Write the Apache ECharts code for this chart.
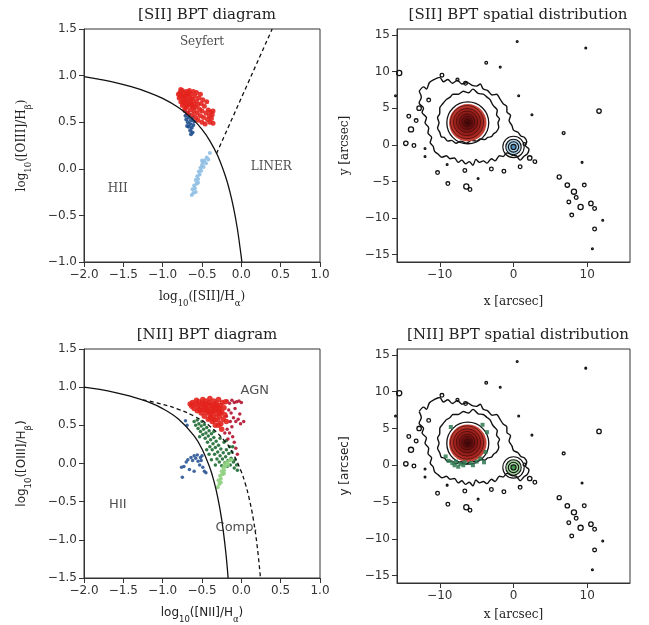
<!DOCTYPE html>
<html>
<head>
<meta charset="utf-8">
<script src="https://cdn.jsdelivr.net/npm/echarts@6/dist/echarts.min.js"></script>
<style>
html,body{margin:0;padding:0;background:#fff;}
#main{width:649px;height:625px;}
</style>
</head>
<body>
<div id="main"></div>
<script>
// demarcation lines
var siiKewley = [[-2.0,0.99],[-1.8,0.96],[-1.6,0.925],[-1.4,0.881],[-1.2,0.826],[-1.0,0.755],[-0.8,0.657],[-0.6,0.517],[-0.5,0.422],[-0.4,0.30],[-0.3,0.139],[-0.2,-0.085],[-0.15,-0.232],[-0.1,-0.414],[-0.05,-0.646],[0.0,-0.95],[0.007,-1.0]];
var siiSeyLiner = [[-0.315,0.165],[0.392,1.5]];
var niiKauff = [[-2.0,1.0],[-1.8,0.97],[-1.6,0.93],[-1.4,0.879],[-1.2,0.812],[-1.0,0.719],[-0.8,0.582],[-0.6,0.362],[-0.5,0.191],[-0.4,-0.056],[-0.35,-0.225],[-0.3,-0.443],[-0.25,-0.733],[-0.2,-1.14],[-0.168,-1.5]];
var niiKewley = [[-1.25,0.835],[-1.0,0.775],[-0.8,0.71],[-0.6,0.62],[-0.4,0.489],[-0.2,0.28],[-0.1,0.12],[0.0,-0.108],[0.05,-0.262],[0.1,-0.459],[0.15,-0.716],[0.2,-1.069],[0.243,-1.497]];

// [SII] diagram points
var siiRed = [[-0.80,0.80],[-0.79,0.76],[-0.78,0.82],[-0.77,0.72],[-0.76,0.79],[-0.75,0.84],[-0.75,0.68],[-0.74,0.75],[-0.73,0.81],[-0.72,0.70],[-0.72,0.64],[-0.71,0.78],[-0.70,0.83],[-0.70,0.66],[-0.69,0.73],[-0.68,0.80],[-0.68,0.60],[-0.67,0.69],[-0.66,0.77],[-0.66,0.84],[-0.65,0.63],[-0.65,0.72],[-0.64,0.80],[-0.63,0.67],[-0.62,0.75],[-0.62,0.58],[-0.61,0.83],[-0.60,0.70],[-0.60,0.62],[-0.59,0.78],[-0.58,0.55],[-0.58,0.66],[-0.57,0.73],[-0.57,0.82],[-0.56,0.60],[-0.55,0.69],[-0.55,0.52],[-0.54,0.76],[-0.53,0.64],[-0.52,0.57],[-0.52,0.80],[-0.51,0.70],[-0.50,0.50],[-0.50,0.62],[-0.49,0.74],[-0.48,0.55],[-0.47,0.67],[-0.46,0.48],[-0.45,0.60],[-0.44,0.72],[-0.43,0.53],[-0.42,0.63],[-0.41,0.57],[-0.40,0.50],[-0.39,0.61],[-0.38,0.54],[-0.37,0.58],[-0.36,0.62],[-0.36,0.49],[-0.78,0.78],[-0.74,0.71],[-0.71,0.74],[-0.69,0.68],[-0.67,0.82],[-0.64,0.75],[-0.63,0.70],[-0.61,0.66],[-0.77,0.85],[-0.73,0.77],[-0.70,0.79]];
var siiDarkBlue = [[-0.72,0.62],[-0.71,0.57],[-0.70,0.53],[-0.69,0.60],[-0.68,0.50],[-0.67,0.55],[-0.67,0.45],[-0.66,0.58],[-0.65,0.48],[-0.65,0.41],[-0.64,0.52],[-0.63,0.44],[-0.62,0.39],[-0.62,0.55],[-0.61,0.47],[-0.60,0.51],[-0.64,0.37],[-0.69,0.46]];
var siiLightBlue = [[-0.63,-0.28],[-0.62,-0.22],[-0.61,-0.26],[-0.60,-0.18],[-0.59,-0.21],[-0.58,-0.12],[-0.57,-0.16],[-0.56,-0.08],[-0.55,-0.11],[-0.54,-0.03],[-0.53,-0.06],[-0.52,0.01],[-0.51,-0.02],[-0.50,0.04],[-0.49,0.07],[-0.48,0.02],[-0.47,0.09],[-0.45,0.06],[-0.44,0.12],[-0.42,0.10],[-0.40,0.17],[-0.55,-0.15],[-0.58,-0.25],[-0.50,0.09]];

// [NII] diagram points
var niiRed = [[-0.65,0.78],[-0.63,0.75],[-0.62,0.80],[-0.60,0.72],[-0.58,0.78],[-0.57,0.83],[-0.56,0.69],[-0.55,0.76],[-0.54,0.81],[-0.52,0.73],[-0.51,0.66],[-0.50,0.79],[-0.49,0.84],[-0.48,0.70],[-0.47,0.62],[-0.46,0.76],[-0.45,0.82],[-0.44,0.67],[-0.43,0.73],[-0.42,0.58],[-0.41,0.80],[-0.40,0.85],[-0.40,0.64],[-0.39,0.71],[-0.38,0.77],[-0.37,0.55],[-0.36,0.68],[-0.35,0.82],[-0.35,0.61],[-0.34,0.74],[-0.33,0.50],[-0.32,0.79],[-0.31,0.65],[-0.30,0.57],[-0.30,0.71],[-0.29,0.84],[-0.28,0.62],[-0.27,0.76],[-0.26,0.52],[-0.25,0.68],[-0.24,0.80],[-0.23,0.58],[-0.22,0.73],[-0.21,0.64],[-0.20,0.81],[-0.19,0.55],[-0.53,0.70],[-0.46,0.72],[-0.44,0.78],[-0.38,0.66],[-0.33,0.70],[-0.31,0.76],[-0.28,0.72],[-0.42,0.69],[-0.36,0.75],[-0.48,0.77],[-0.39,0.60],[-0.27,0.66],[-0.34,0.57],[-0.29,0.50],[-0.25,0.45]];
var niiDarkRed = [[-0.18,0.82],[-0.15,0.79],[-0.12,0.83],[-0.09,0.80],[-0.06,0.81],[-0.03,0.82],[0.00,0.80],[-0.16,0.70],[-0.13,0.66],[-0.10,0.60],[-0.07,0.55],[-0.04,0.58],[-0.01,0.52],[-0.14,0.55],[-0.12,0.48],[-0.18,0.45],[-0.15,0.40],[-0.11,0.35],[-0.09,0.28],[-0.07,0.20],[-0.05,0.12],[-0.19,0.62],[-0.21,0.40],[-0.17,0.32],[0.03,0.55],[-0.02,0.65],[-0.08,0.72]];
var niiDarkGreen = [[-0.60,0.55],[-0.58,0.50],[-0.56,0.57],[-0.55,0.46],[-0.54,0.52],[-0.52,0.42],[-0.51,0.49],[-0.50,0.55],[-0.49,0.38],[-0.48,0.45],[-0.47,0.51],[-0.46,0.33],[-0.45,0.40],[-0.44,0.47],[-0.43,0.28],[-0.42,0.36],[-0.41,0.43],[-0.40,0.22],[-0.39,0.31],[-0.38,0.39],[-0.37,0.18],[-0.36,0.26],[-0.35,0.34],[-0.34,0.12],[-0.33,0.21],[-0.32,0.29],[-0.31,0.06],[-0.30,0.15],[-0.29,0.24],[-0.28,0.02],[-0.27,0.10],[-0.26,0.19],[-0.25,-0.03],[-0.24,0.06],[-0.23,0.14],[-0.22,0.28],[-0.21,0.01],[-0.20,0.09],[-0.19,0.18],[-0.18,-0.04],[-0.17,0.04],[-0.16,0.13],[-0.15,0.22],[-0.14,-0.02],[-0.13,0.07],[-0.12,0.15],[-0.10,0.02],[-0.09,-0.06],[-0.08,0.05],[-0.06,-0.02],[-0.05,-0.09],[-0.41,0.12],[-0.38,0.05],[-0.33,-0.02],[-0.44,0.18],[-0.53,0.35],[-0.35,0.42],[-0.27,0.33],[-0.19,0.30],[-0.11,0.22]];
var niiLightGreen = [[-0.30,-0.31],[-0.29,-0.22],[-0.28,-0.27],[-0.27,-0.16],[-0.26,-0.20],[-0.25,-0.10],[-0.24,-0.14],[-0.23,-0.05],[-0.22,-0.09],[-0.21,0.00],[-0.20,-0.04],[-0.18,0.02],[-0.17,-0.02],[-0.15,0.04],[-0.13,0.05],[-0.26,-0.25],[-0.22,-0.13]];
var niiDarkBlue = [[-0.75,-0.18],[-0.76,-0.05],[-0.73,-0.04],[-0.70,0.02],[-0.68,0.05],[-0.66,-0.08],[-0.64,0.08],[-0.62,0.04],[-0.60,0.10],[-0.58,0.07],[-0.56,0.11],[-0.55,0.03],[-0.53,-0.02],[-0.52,0.08],[-0.50,0.10],[-0.49,-0.05],[-0.47,-0.10],[-0.45,-0.12],[-0.60,-0.10],[-0.71,0.56],[-0.69,0.50],[-0.51,0.04]];

// spatial maps: contours in arcsec
var outerContour = [[-12.8,7.3],[-12.2,7.9],[-11.8,7.6],[-11.4,8.5],[-10.8,8.9],[-10.0,9.2],[-9.5,8.6],[-8.9,8.9],[-8.3,8.4],[-7.6,8.8],[-7.0,8.3],[-6.3,8.5],[-5.6,8.1],[-5.0,8.0],[-4.5,8.3],[-4.1,7.6],[-3.5,7.4],[-2.9,6.8],[-2.3,6.9],[-1.8,6.2],[-1.4,5.6],[-0.9,5.2],[-0.9,4.5],[-0.4,4.0],[-0.6,3.3],[-0.2,2.6],[0.0,2.0],[0.6,1.7],[1.0,1.2],[1.5,1.0],[1.8,0.4],[1.6,-0.1],[2.1,-0.6],[1.9,-1.2],[1.4,-1.6],[0.9,-2.1],[0.4,-1.5],[-0.2,-1.4],[-0.9,-1.1],[-1.4,-1.6],[-1.9,-1.5],[-2.5,-2.2],[-3.0,-1.9],[-3.6,-2.5],[-4.1,-2.2],[-4.6,-2.4],[-5.1,-2.0],[-5.5,-2.8],[-6.0,-2.3],[-6.5,-2.6],[-7.0,-2.1],[-7.5,-2.4],[-8.0,-1.8],[-8.6,-1.9],[-9.1,-1.5],[-9.7,-1.7],[-10.2,-1.3],[-10.7,-0.9],[-10.9,-0.2],[-11.3,0.3],[-11.1,1.0],[-11.6,1.6],[-11.5,2.3],[-12.0,3.0],[-11.8,3.7],[-12.4,4.4],[-12.2,5.0],[-12.8,5.7],[-12.5,6.5],[-12.8,7.3]];
var midContour = [[-9.1,6.2],[-8.6,6.5],[-8.2,6.9],[-7.5,6.9],[-6.8,7.3],[-6.1,7.1],[-5.5,7.6],[-4.8,7.0],[-4.1,6.9],[-3.6,6.5],[-3.2,6.2],[-2.9,5.6],[-2.7,5.3],[-2.2,4.7],[-2.3,4.1],[-1.9,3.5],[-2.1,3.0],[-2.0,2.4],[-2.3,1.8],[-2.7,1.5],[-3.0,1.1],[-3.5,1.0],[-3.9,0.7],[-4.5,0.8],[-5.0,0.5],[-5.7,0.6],[-6.4,0.2],[-7.1,0.5],[-7.8,0.2],[-8.4,0.6],[-8.9,0.5],[-9.4,1.0],[-9.8,1.1],[-10.0,1.7],[-10.3,2.3],[-10.1,3.0],[-10.3,3.7],[-10.0,4.3],[-10.0,5.0],[-9.6,5.6],[-9.1,6.2]];
// [x, y, radius]
var nucleusRed = [[-6.2,3.0,2.55]];
var nucleusEdge = [[-6.2,3.0,2.85]];
var nucleusRings = [[-6.3,3.1,2.25],[-6.3,3.1,1.85],[-6.3,3.15,1.45],[-6.3,3.15,1.05],[-6.3,3.2,0.7],[-6.3,3.2,0.35]];
var companionFill = [[0.0,-0.3,1.0]];
var companionCore = [[0.0,-0.3,0.35]];
var companionRings = [[0.0,-0.3,1.45],[0.0,-0.3,1.05],[0.0,-0.3,0.7],[0.0,-0.3,0.35]];
var islands = [[-15.5,9.8,0.35],[0.5,14.1,0.12],[9.8,13.2,0.12],[-3.7,11.2,0.18],[-1.8,10.6,0.12],[11.6,4.6,0.3],[6.8,1.6,0.2],[9.3,-2.4,0.12],[6.2,-4.4,0.28],[-8.9,-5.3,0.25],[-6.4,-5.7,0.35],[-5.9,-6.1,0.25],[-10.3,-3.8,0.25],[-4.8,-4.6,0.12],[0.9,-3.0,0.25],[2.9,-2.3,0.25],[0.7,6.7,0.12],[2.5,4.1,0.12],[-14.6,0.2,0.3],[-13.5,-0.1,0.25],[-12.0,-0.5,0.12],[-13.9,2.1,0.35],[-14.2,3.9,0.25],[-13.2,3.3,0.25],[-12.8,5.0,0.3],[-11.5,6.1,0.25],[-9.7,9.5,0.25],[-7.6,8.9,0.2],[-6.5,8.4,0.25],[-12.0,-1.6,0.12],[-9.0,-2.7,0.12],[-6.6,-3.5,0.25],[-3.0,-3.3,0.25],[-1.3,-3.6,0.25],[1.5,0.1,0.2],[2.2,-1.8,0.3],[7.3,-5.5,0.3],[8.2,-6.4,0.35],[9.6,-5.5,0.25],[7.5,-7.8,0.25],[9.1,-8.5,0.35],[10.5,-8.0,0.3],[7.9,-9.6,0.25],[11.0,-8.7,0.25],[8.5,-7.2,0.25],[12.1,-10.3,0.12],[11.0,-11.5,0.25],[10.7,-14.2,0.12],[-16.0,6.7,0.12]];
var greenSpaxels = [[-8.8,0.6],[-8.3,0.3],[-7.8,0.5],[-7.2,0.2],[-6.6,0.4],[-5.8,0.3],[-5.0,0.5],[-4.5,0.9],[-9.2,1.2],[-3.8,1.8],[-3.6,4.5],[-4.2,5.5],[-8.5,5.2],[-6.8,0.0],[-5.5,0.0],[-7.5,-0.2],[-4.0,0.4],[-8.0,0.0]];

var mapTicksX = [-10,0,10];
var mapTicksY = [-15,-10,-5,0,5,10,15];

var serif = 'DejaVu Serif';
var sans = 'DejaVu Sans';

function fmt1(v){ return v.toFixed(1).replace('-', '\u2212'); }
function fmt0(v){ return String(v).replace('-', '\u2212'); }

function richName(font){
	return {
		t: {fontFamily: font, fontSize: 12, color: '#222', lineHeight: 17, verticalAlign: 'middle'},
		s: {fontFamily: font, fontSize: 8.5, color: '#222', lineHeight: 17, verticalAlign: 'bottom', padding: [0,0,-3,0]}
	};
}

function valAxis(idx, min, max, interval, name, font, gap, custom, fmt){
	var ax = {
		type: 'value', gridIndex: idx, min: min, max: max,
		name: name, nameLocation: 'middle', nameGap: gap,
		nameTextStyle: {fontFamily: font, fontSize: 12, color: '#222', rich: richName(font)},
		axisLine: {show: true, onZero: false, lineStyle: {color: '#333', width: 1}},
		axisTick: {show: true, length: 5, lineStyle: {color: '#333'}},
		axisLabel: {fontFamily: sans, fontSize: 12, color: '#333', margin: 7, formatter: fmt},
		splitLine: {show: false}
	};
	if(interval) ax.interval = interval;
	if(custom){
		ax.axisTick.customValues = custom;
		ax.axisLabel.customValues = custom;
	}
	return ax;
}

function circleRender(fill, stroke, width){
	return function(params, api){
		var c = api.coord([api.value(0), api.value(1)]);
		var s = api.size([api.value(2), api.value(2)]);
		var r = (s[0] + s[1]) / 2;
		return {
			type: 'circle',
			shape: {cx: c[0], cy: c[1], r: r},
			style: {fill: fill, stroke: stroke, lineWidth: width}
		};
	};
}

function scat(ax, data, color, size){
	return {type: 'scatter', xAxisIndex: ax, yAxisIndex: ax, data: data, symbolSize: size,
		itemStyle: {color: color, opacity: 0.9}, silent: true, z: 3};
}
function curve(ax, data, dashed){
	return {type: 'line', xAxisIndex: ax, yAxisIndex: ax, data: data, smooth: 0.4, showSymbol: false, silent: true,
		lineStyle: {color: '#111', width: 1.3, type: dashed ? [4,3] : 'solid'}, z: 4};
}
function labels(ax, items, font, size){
	return {type: 'scatter', xAxisIndex: ax, yAxisIndex: ax, symbolSize: 0, silent: true, data: items,
		label: {show: true, position: 'inside', formatter: '{b}', fontFamily: font, fontSize: size, color: '#222'}, z: 5};
}

function mapSeries(ax, coreColor, coreDark, withGreen){
	var list = [];
	list.push({type: 'line', xAxisIndex: ax, yAxisIndex: ax, data: outerContour, smooth: 0.3, showSymbol: false, silent: true,
		lineStyle: {color: '#111', width: 1.4}, z: 3});
	list.push({type: 'line', xAxisIndex: ax, yAxisIndex: ax, data: midContour, smooth: 0.3, showSymbol: false, silent: true,
		lineStyle: {color: '#111', width: 1.4}, z: 3});
	list.push({type: 'custom', xAxisIndex: ax, yAxisIndex: ax, data: islands, silent: true, z: 3,
		renderItem: circleRender('none', '#111', 1.3)});
	list.push({type: 'custom', xAxisIndex: ax, yAxisIndex: ax, data: nucleusEdge, silent: true, z: 3,
		renderItem: circleRender('none', '#111', 1.3)});
	list.push({type: 'custom', xAxisIndex: ax, yAxisIndex: ax, data: nucleusRed, silent: true, z: 4,
		renderItem: circleRender({type: 'radial', x: 0.5, y: 0.5, r: 0.5, colorStops: [
			{offset: 0, color: '#3a0606'}, {offset: 0.35, color: '#741212'}, {offset: 0.75, color: '#a8261f'}, {offset: 1, color: '#cc4a3e'}]}, 'none', 0)});
	if(withGreen){
		list.push({type: 'scatter', xAxisIndex: ax, yAxisIndex: ax, data: greenSpaxels, symbol: 'rect', symbolSize: 4,
			itemStyle: {color: '#2f7a52', opacity: 0.85}, silent: true, z: 4});
	}
	list.push({type: 'custom', xAxisIndex: ax, yAxisIndex: ax, data: nucleusRings, silent: true, z: 5,
		renderItem: circleRender('none', '#3a0808', 0.7)});
	list.push({type: 'custom', xAxisIndex: ax, yAxisIndex: ax, data: companionFill, silent: true, z: 4,
		renderItem: circleRender(coreColor, 'none', 0)});
	list.push({type: 'custom', xAxisIndex: ax, yAxisIndex: ax, data: companionCore, silent: true, z: 4,
		renderItem: circleRender(coreDark, 'none', 0)});
	list.push({type: 'custom', xAxisIndex: ax, yAxisIndex: ax, data: companionRings, silent: true, z: 5,
		renderItem: circleRender('none', '#111', 1.1)});
	return list;
}

var nameSII_x = '{t|log}{s|10}{t|([SII]/H}{s|\u03b1}{t|)}';
var nameOIII_y = '{t|log}{s|10}{t|([OIII]/H}{s|\u03b2}{t|)}';
var nameNII_x = '{t|log}{s|10}{t|([NII]/H}{s|\u03b1}{t|)}';

var chart = echarts.init(document.getElementById('main'));
var series = [];
series.push(scat(0, siiLightBlue, '#8fbfe3', 4));
series.push(scat(0, siiDarkBlue, '#1f4f8f', 4));
series.push(scat(0, siiRed, '#e3231d', 5));
series.push(curve(0, siiKewley, false));
series.push(curve(0, siiSeyLiner, true));
series.push(labels(0, [{name: 'Seyfert', value: [-0.5, 1.36]}, {name: 'LINER', value: [0.38, 0.02]}, {name: 'HII', value: [-1.57, -0.22]}], serif, 12));

series = series.concat(mapSeries(1, '#a9d0ea', '#4f8fbf', false));

series.push(scat(2, niiDarkBlue, '#2a5596', 3.5));
series.push(scat(2, niiDarkGreen, '#1e6a34', 3.5));
series.push(scat(2, niiLightGreen, '#8fd080', 4));
series.push(scat(2, niiDarkRed, '#b3122e', 3.5));
series.push(scat(2, niiRed, '#e3231d', 5.5));
series.push(curve(2, niiKauff, false));
series.push(curve(2, niiKewley, true));
series.push(labels(2, [{name: 'AGN', value: [0.17, 0.95]}, {name: 'HII', value: [-1.57, -0.54]}, {name: 'Comp.', value: [-0.06, -0.84]}], sans, 13));

series = series.concat(mapSeries(3, '#9ed69a', '#3f9a4a', true));

var titleStyle = {fontFamily: serif, fontSize: 15, fontWeight: 'normal', color: '#222'};
var option = {
	backgroundColor: '#fff',
	animation: false,
	title: [
		{text: '[SII] BPT diagram', left: 202, top: 3, textAlign: 'center', textStyle: titleStyle},
		{text: '[SII] BPT spatial distribution', left: 513, top: 3, textAlign: 'center', textStyle: titleStyle},
		{text: '[NII] BPT diagram', left: 202, top: 323, textAlign: 'center', textStyle: titleStyle},
		{text: '[NII] BPT spatial distribution', left: 513, top: 323, textAlign: 'center', textStyle: titleStyle}
	],
	grid: [
		{left: 84, top: 29, width: 236, height: 233, show: true, borderColor: '#333', borderWidth: 1, backgroundColor: 'transparent'},
		{left: 397, top: 29, width: 233, height: 233, show: true, borderColor: '#333', borderWidth: 1, backgroundColor: 'transparent'},
		{left: 84, top: 349, width: 236, height: 234, show: true, borderColor: '#333', borderWidth: 1, backgroundColor: 'transparent'},
		{left: 397, top: 349, width: 233, height: 234, show: true, borderColor: '#333', borderWidth: 1, backgroundColor: 'transparent'}
	],
	xAxis: [
		valAxis(0, -2, 1, 0.5, nameSII_x, serif, 26, null, fmt1),
		valAxis(1, -15.8, 15.8, null, 'x [arcsec]', serif, 34, mapTicksX, fmt0),
		valAxis(2, -2, 1, 0.5, nameNII_x, sans, 26, null, fmt1),
		valAxis(3, -15.8, 15.8, null, 'x [arcsec]', serif, 26, mapTicksX, fmt0)
	],
	yAxis: [
		valAxis(0, -1.0, 1.5, 0.5, nameOIII_y, serif, 54, null, fmt1),
		valAxis(1, -16, 15.8, null, 'y [arcsec]', serif, 46, mapTicksY, fmt0),
		valAxis(2, -1.5, 1.5, 0.5, nameOIII_y, sans, 54, null, fmt1),
		valAxis(3, -16, 15.8, null, 'y [arcsec]', sans, 46, mapTicksY, fmt0)
	],
	series: series
};
chart.setOption(option);
</script>
</body>
</html>
